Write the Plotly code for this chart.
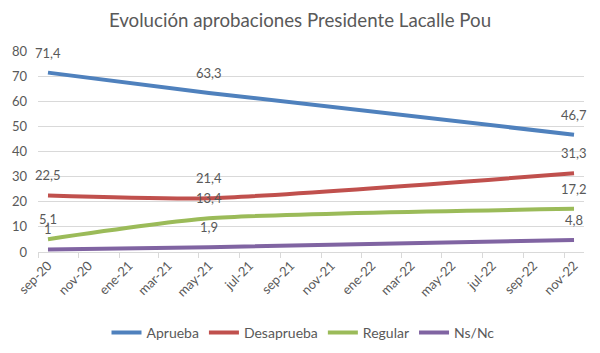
import plotly.graph_objects as go

# ---- data ----
dates = ["2020-09-16", "2021-05-16", "2022-11-16"]
aprueba = [71.4, 63.3, 46.7]
desaprueba = [22.5, 21.4, 31.3]
regular = [5.1, 13.4, 17.2]
nsnc = [1.0, 1.9, 4.8]

series_names = ["Aprueba", "Desaprueba", "Regular", "Ns/Nc"]
series_values = [aprueba, desaprueba, regular, nsnc]
series_colors = ["#4F81BD", "#C0504D", "#9BBB59", "#8064A2"]

tick_vals = ["2020-09-16", "2020-11-16", "2021-01-16", "2021-03-16", "2021-05-16",
             "2021-07-16", "2021-09-16", "2021-11-16", "2022-01-16", "2022-03-16",
             "2022-05-16", "2022-07-16", "2022-09-16", "2022-11-16"]
tick_labels = ["sep-20", "nov-20", "ene-21", "mar-21", "may-21", "jul-21", "sep-21",
               "nov-21", "ene-22", "mar-22", "may-22", "jul-22", "sep-22", "nov-22"]

FONT = "Lato"
GREY = "#595959"

fig = go.Figure()
annotations = []
for name, vals, col in zip(series_names, series_values, series_colors):
    fig.add_trace(go.Scatter(
        x=dates, y=vals, name=name, mode="lines",
        line=dict(color=col, width=4, shape="spline", smoothing=0.6),
        hoverinfo="skip",
    ))
    for xv, yv in zip(dates, vals):
        annotations.append(dict(
            x=xv, y=yv, xref="x", yref="y",
            text=f"{yv:g}".replace(".", ","),
            showarrow=False, yshift=20,
            font=dict(family=FONT, size=13, color=GREY),
        ))

fig.update_layout(
    width=600, height=353,
    margin=dict(l=36, r=16, t=51, b=101),
    paper_bgcolor="white", plot_bgcolor="white",
    font=dict(family=FONT, size=13, color=GREY),
    title=dict(text="Evolución aprobaciones Presidente Lacalle Pou",
               x=0.5, xref="container", xanchor="center",
               y=1 - 20 / 353, yref="container", yanchor="middle",
               font=dict(family=FONT, size=18.7, color=GREY)),
    showlegend=True,
    legend=dict(orientation="h", x=0.505, xref="container", xanchor="center",
                y=1 - 333 / 353, yref="container", yanchor="middle",
                font=dict(family=FONT, size=14, color=GREY),
                itemwidth=30, tracegroupgap=0),
    annotations=annotations,
)

fig.update_xaxes(
    type="date", range=["2020-09-01", "2022-12-01"],
    tickmode="array", tickvals=tick_vals, ticktext=tick_labels,
    tickangle=-45, ticks="", showgrid=False,
    showline=True, linecolor="#D9D9D9", linewidth=1,
    tickfont=dict(family=FONT, size=13, color=GREY),
    minor=dict(tickmode="linear", tick0="2020-09-01", dtick="M2",
               ticks="outside", ticklen=5, tickcolor="#D9D9D9", tickwidth=1,
               showgrid=False),
    fixedrange=True,
)
fig.update_yaxes(
    range=[0, 80], dtick=10, tick0=0,
    showgrid=True, gridcolor="#D9D9D9", gridwidth=1,
    zeroline=False, showline=False, ticks="",
    ticklabelstandoff=10,
    tickfont=dict(family=FONT, size=13, color=GREY),
    fixedrange=True,
)

fig.write_html("out.html")
